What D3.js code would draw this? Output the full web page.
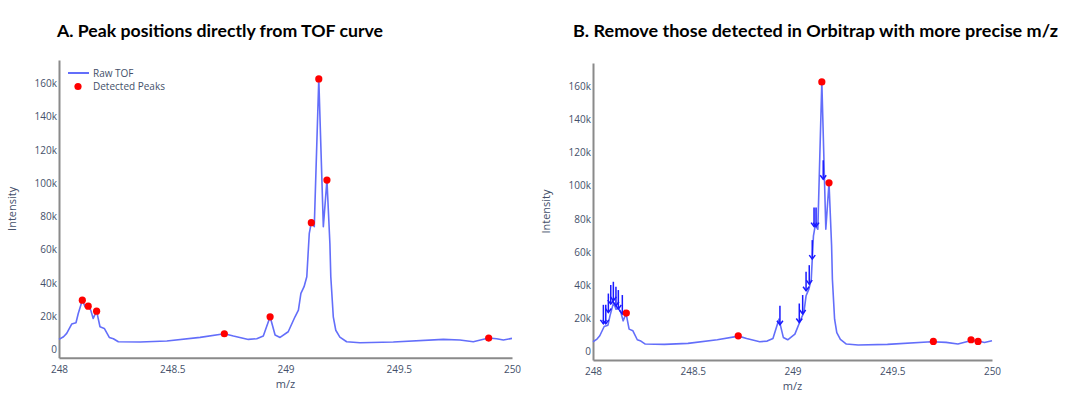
<!DOCTYPE html>
<html><head><meta charset="utf-8">
<script src="https://cdn.jsdelivr.net/npm/d3@7"></script>
<style>body{margin:0;background:#fff}svg{display:block}</style>
</head><body>
<svg id="chart" width="1073" height="397"></svg>
<script>
// Raw TOF curve
const mz = [248.000,248.020,248.034,248.056,248.075,248.085,248.103,248.115,248.129,248.140,248.151,248.166,248.181,248.200,248.222,248.240,248.262,248.358,248.476,248.623,248.730,248.770,248.836,248.873,248.902,248.932,248.954,248.976,249.012,249.042,249.057,249.068,249.082,249.094,249.105,249.114,249.127,249.147,249.167,249.183,249.196,249.200,249.211,249.222,249.240,249.270,249.329,249.476,249.697,249.770,249.829,249.897,249.932,249.962,250.000];
const intensity = [6000,7600,9600,15200,16000,21600,29600,25600,26000,23600,18600,23000,13600,12600,7200,6400,4600,4400,5000,7200,9400,8000,6000,6400,8000,19600,8600,7200,10600,19600,23600,33700,37700,43700,69800,76200,73800,162600,73800,101800,63700,43700,19600,11500,7400,4600,4000,4400,6000,5600,4600,6800,6400,5600,6600];
// Panel A detected peaks
const peaksA_mz = [248.103,248.129,248.166,248.730,248.932,249.114,249.147,249.183,249.897];
const peaksA_int = [29600,26000,23000,9400,19600,76200,162600,101800,6800];
// Panel B remaining peaks
const peaksB_mz = [248.167,248.728,249.147,249.183,249.706,249.895,249.930];
const peaksB_int = [23300,9600,162600,101800,6200,7200,6200];
// Panel B Orbitrap arrows
const orbi_mz = [248.052,248.064,248.077,248.089,248.102,248.115,248.127,248.147,248.937,249.034,249.051,249.068,249.084,249.099,249.108,249.118,249.154];
const orbi_int = [16800,16800,23600,28700,30700,27700,25700,22700,16200,17600,22700,36700,40700,55800,75400,75400,103900];
const xTicks = [248,248.5,249,249.5,250];
const yTicks = [0,20000,40000,60000,80000,100000,120000,140000,160000];
const titles = ["A. Peak positions directly from TOF curve","B. Remove those detected in Orbitrap with more precise m/z"];
const legendLabels = ["Raw TOF","Detected Peaks"];

const svg = d3.select("#chart");
const tickColor = "#44506a";
const lineColor = "#636efa";

function panel(cfg){
  const g = svg.append("g");
  const x = d3.scaleLinear().domain([248,250]).range([cfg.x0,cfg.x1]);
  const y = d3.scaleLinear().domain([-5000,174000]).range([cfg.yb,cfg.yt]);
  const xa = g.append("g").attr("transform",`translate(0,${cfg.yb})`)
    .call(d3.axisBottom(x).tickValues(xTicks).tickSize(0).tickPadding(8).tickFormat(d=>d3.format("")(d)));
  const ya = g.append("g").attr("transform",`translate(${cfg.x0},0)`)
    .call(d3.axisLeft(y).tickValues(yTicks).tickSize(0).tickPadding(2).tickFormat(d=>d===0?"0":(d/1000)+"k"));
  [xa,ya].forEach(a=>{
    a.select(".domain").attr("stroke","#8a8a8a").attr("stroke-width",2);
    a.selectAll("text").attr("fill",tickColor).style("font-family","'Open Sans', sans-serif").style("font-size","10px");
  });
  g.append("text").attr("x",(cfg.x0+cfg.x1)/2).attr("y",cfg.yb+30)
    .attr("text-anchor","middle").attr("fill",tickColor)
    .style("font-family","'Open Sans', sans-serif").style("font-size","11px").text("m/z");
  g.append("text").attr("transform",`translate(${cfg.x0-43},${(cfg.yt+cfg.yb)/2}) rotate(-90)`)
    .attr("text-anchor","middle").attr("fill",tickColor)
    .style("font-family","'Open Sans', sans-serif").style("font-size","11px").text("Intensity");
  const data = mz.map((m,i)=>[m,intensity[i]]);
  g.append("path").datum(data)
    .attr("fill","none").attr("stroke",lineColor).attr("stroke-width",1.6).attr("stroke-linejoin","round")
    .attr("d",d3.line().x(d=>x(d[0])).y(d=>y(d[1])));
  if(cfg.arrows){
    const ag = g.append("g").attr("stroke","#1a1aff").attr("fill","none").attr("stroke-width",1.5);
    orbi_mz.forEach((m,i)=>{
      const ax = x(m), ay = y(orbi_int[i]);
      ag.append("line").attr("x1",ax).attr("x2",ax).attr("y1",ay-19).attr("y2",ay);
      ag.append("path").attr("d",`M${ax-3},${ay-4}L${ax},${ay}L${ax+3},${ay-4}`);
    });
  }
  g.selectAll("circle.pk").data(cfg.pm.map((m,i)=>[m,cfg.pi[i]])).enter().append("circle")
    .attr("cx",d=>x(d[0])).attr("cy",d=>y(d[1])).attr("r",3.6).attr("fill","#ff0000");
  svg.append("text").attr("x",cfg.tx).attr("y",37).attr("textLength",cfg.tl).attr("lengthAdjust","spacingAndGlyphs")
    .style("font-family","Lato, 'Open Sans', sans-serif").style("font-weight","bold").style("font-size","17.5px")
    .attr("fill","#000").text(cfg.title);
  if(cfg.legend){
    const lg = g.append("g");
    lg.append("line").attr("x1",68).attr("x2",89).attr("y1",73).attr("y2",73).attr("stroke",lineColor).attr("stroke-width",2);
    lg.append("circle").attr("cx",78).attr("cy",86.5).attr("r",3.6).attr("fill","#ff0000");
    legendLabels.forEach((t,i)=>{
      lg.append("text").attr("x",93).attr("y",73+i*13.5).attr("dy","0.35em").attr("fill",tickColor)
        .style("font-family","'Open Sans', sans-serif").style("font-size","10px").text(t);
    });
  }
}
panel({x0:59,x1:512,yt:60,yb:357.7,pm:peaksA_mz,pi:peaksA_int,arrows:false,legend:true,title:titles[0],tx:57,tl:326});
panel({x0:593,x1:992,yt:63,yb:360,pm:peaksB_mz,pi:peaksB_int,arrows:true,legend:false,title:titles[1],tx:573,tl:485});
</script>
</body></html>
